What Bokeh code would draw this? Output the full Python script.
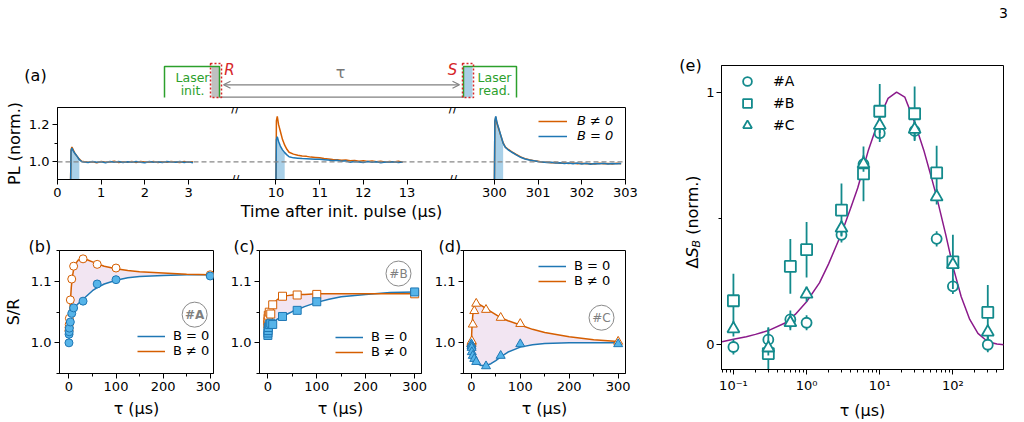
import math
from bokeh.plotting import figure
from bokeh.layouts import row, column
from bokeh.models import (Range1d, FixedTicker, Span, Label, Legend, LegendItem, Title,
                          Arrow, OpenHead, CustomJSTickFormatter, NumeralTickFormatter)
from bokeh.embed import file_html
from bokeh.resources import INLINE

# ---------------- data ----------------
# (a) PL traces (normalised), time after init pulse in microseconds
t_seg1 = [0.30, 0.31, 0.33, 0.36, 0.40, 0.45, 0.50, 0.55, 0.6, 0.7, 0.8, 0.9, 1.0, 1.1, 1.2, 1.3,
          1.4, 1.5, 1.6, 1.7, 1.8, 1.9, 2.0, 2.1, 2.2, 2.3, 2.4, 2.5, 2.6, 2.7, 2.8, 2.9, 3.0, 3.1]
pl_b0_seg1 = [0.90, 1.060, 1.075, 1.060, 1.045, 1.030, 1.012, 1.003, 1.000, 0.997, 1.002, 0.998, 1.001,
              0.996, 1.003, 0.999, 1.002, 0.997, 1.001, 0.998, 1.003, 0.999, 0.996, 1.002, 0.999, 1.001,
              0.997, 1.003, 1.000, 0.998, 1.002, 0.997, 1.001, 0.996]
pl_b1_seg1 = [0.90, 1.065, 1.080, 1.065, 1.045, 1.030, 1.015, 1.004, 1.002, 0.999, 1.001, 0.996, 1.003,
              0.998, 1.000, 1.004, 0.997, 1.001, 0.999, 1.003, 0.997, 1.002, 1.000, 0.998, 1.003, 0.997,
              1.001, 0.999, 1.002, 1.000, 0.997, 1.002, 0.999, 1.001]
t_seg2 = [10.00, 10.01, 10.03, 10.06, 10.10, 10.15, 10.20, 10.25, 10.30, 10.40, 10.50, 10.60, 10.70,
          10.80, 10.90, 11.0, 11.1, 11.2, 11.3, 11.4, 11.5, 11.6, 11.7, 11.8, 11.9, 12.0, 12.1, 12.2,
          12.3, 12.4, 12.5, 12.6, 12.7, 12.8, 12.9]
pl_b0_seg2 = [0.90, 1.120, 1.135, 1.110, 1.085, 1.065, 1.050, 1.038, 1.028, 1.022, 1.020, 1.018, 1.017,
              1.016, 1.015, 1.014, 1.012, 1.010, 1.007, 1.009, 1.004, 1.006, 0.998, 1.003, 1.000, 0.997,
              1.002, 0.998, 1.001, 0.996, 1.000, 0.998, 1.001, 0.997, 1.000]
pl_b1_seg2 = [0.90, 1.220, 1.245, 1.200, 1.165, 1.120, 1.090, 1.068, 1.052, 1.042, 1.036, 1.032, 1.030,
              1.026, 1.024, 1.022, 1.018, 1.016, 1.013, 1.012, 1.009, 1.010, 1.006, 1.008, 1.004, 1.006,
              1.002, 1.005, 1.001, 1.004, 0.999, 1.003, 1.000, 1.004, 0.999]
t_seg3 = [300.00, 300.01, 300.03, 300.06, 300.10, 300.15, 300.20, 300.25, 300.30, 300.40, 300.50,
          300.60, 300.70, 300.80, 300.90, 301.0, 301.1, 301.2, 301.3, 301.4, 301.5, 301.6, 301.7,
          301.8, 301.9, 302.0, 302.1, 302.2, 302.3, 302.4, 302.5, 302.6, 302.7, 302.8, 302.9]
pl_b0_seg3 = [0.90, 1.220, 1.245, 1.210, 1.180, 1.140, 1.100, 1.078, 1.068, 1.052, 1.038, 1.025, 1.016,
              1.010, 1.006, 1.002, 1.000, 0.997, 0.998, 0.994, 0.996, 0.992, 0.995, 0.991, 0.994, 0.989,
              0.993, 0.988, 0.992, 0.990, 0.993, 0.989, 0.992, 0.990, 0.992]
pl_b1_seg3 = [0.90, 1.215, 1.240, 1.205, 1.175, 1.138, 1.102, 1.080, 1.070, 1.054, 1.040, 1.027, 1.018,
              1.012, 1.007, 1.004, 0.999, 0.998, 0.996, 0.997, 0.993, 0.995, 0.992, 0.994, 0.990, 0.993,
              0.990, 0.991, 0.989, 0.993, 0.990, 0.992, 0.989, 0.993, 0.991]
a_tick_vals = [0, 1, 2, 3, 10, 11, 12, 13, 300, 301, 302, 303]
a_tick_labels = ["0", "1", "2", "3", "10", "11", "12", "13", "300", "301", "302", "303"]

# (b)-(d) S/R versus tau
tau_pts = [0.1, 0.3, 0.6, 1, 3, 6, 10, 30, 60, 100, 300]
A_b0 = [1.000, 1.014, 1.018, 1.024, 1.034, 1.048, 1.057, 1.068, 1.096, 1.103, 1.109]
A_b1 = [1.020, 1.025, 1.030, 1.040, 1.070, 1.104, 1.125, 1.137, 1.128, 1.122, 1.111]
B_b0 = [1.012, 1.016, 1.020, 1.025, 1.030, 1.032, 1.030, 1.043, 1.053, 1.067, 1.083]
B_b1 = [1.030, 1.035, 1.040, 1.045, 1.050, 1.047, 1.062, 1.076, 1.078, 1.079, 1.080]
C_b0 = [0.998, 0.995, 0.992, 0.985, 0.979, 0.974, 0.969, 0.962, 0.979, 0.998, 0.998]
C_b1 = [0.998, 1.000, 1.001, 1.003, 1.030, 1.052, 1.064, 1.054, 1.041, 1.031, 1.002]

tau_fit = [0, 1, 2, 3, 5, 7, 10, 15, 20, 30, 40, 50, 60, 75, 100, 125, 150, 200, 250, 300]
A_fit_b0 = [1.000, 1.022, 1.032, 1.038, 1.045, 1.050, 1.055, 1.060, 1.064, 1.071, 1.078, 1.085, 1.090,
            1.096, 1.102, 1.106, 1.108, 1.110, 1.111, 1.111]
A_fit_b1 = [1.020, 1.035, 1.052, 1.066, 1.090, 1.106, 1.120, 1.130, 1.135, 1.137, 1.135, 1.132, 1.129,
            1.125, 1.121, 1.118, 1.116, 1.114, 1.112, 1.111]
B_fit_b0 = [1.024, 1.026, 1.029, 1.030, 1.032, 1.033, 1.034, 1.036, 1.039, 1.043, 1.047, 1.051, 1.054,
            1.059, 1.066, 1.071, 1.075, 1.079, 1.082, 1.083]
B_fit_b1 = [1.028, 1.035, 1.042, 1.047, 1.052, 1.056, 1.061, 1.067, 1.071, 1.075, 1.077, 1.078, 1.079,
            1.079, 1.080, 1.080, 1.080, 1.080, 1.080, 1.080]
C_fit_b0 = [1.000, 0.990, 0.984, 0.980, 0.975, 0.971, 0.968, 0.965, 0.963, 0.963, 0.966, 0.971, 0.977,
            0.985, 0.993, 0.997, 0.999, 1.000, 1.000, 1.000]
C_fit_b1 = [1.000, 1.020, 1.035, 1.045, 1.057, 1.062, 1.064, 1.063, 1.061, 1.056, 1.051, 1.046, 1.041,
            1.036, 1.029, 1.022, 1.017, 1.010, 1.005, 1.002]

# (e) normalised Delta S_B
tau_e = [0.1, 0.3, 0.6, 1, 3, 6, 10, 30, 60, 100, 300]
dS_A = [-0.009, 0.020, 0.100, 0.087, 0.435, 0.715, 0.837, 0.846, 0.419, 0.231, 0.000]
err_A = [0.030, 0.045, 0.035, 0.030, 0.030, 0.035, 0.035, 0.035, 0.030, 0.030, 0.030]
dS_B = [0.174, -0.035, 0.310, 0.376, 0.533, 0.676, 0.924, 0.914, 0.680, 0.328, 0.128]
err_B = [0.107, 0.104, 0.108, 0.110, 0.105, 0.108, 0.108, 0.108, 0.107, 0.107, 0.108]
dS_C = [0.063, -0.013, 0.087, 0.200, 0.461, 0.715, 0.868, 0.852, 0.585, 0.317, 0.050]
err_C = [0.030, 0.030, 0.030, 0.030, 0.030, 0.030, 0.030, 0.030, 0.030, 0.030, 0.030]
tau_curve = [0.07, 0.1, 0.15, 0.2, 0.3, 0.5, 0.7, 1, 1.5, 2, 3, 4, 5, 7, 10, 13, 17, 22, 30, 40, 50,
             60, 80, 100, 130, 170, 220, 300, 400, 500]
dS_curve = [0.012, 0.022, 0.032, 0.041, 0.056, 0.085, 0.120, 0.170, 0.245, 0.320, 0.440, 0.540, 0.620,
            0.770, 0.900, 0.975, 1.000, 0.980, 0.880, 0.770, 0.670, 0.585, 0.435, 0.310, 0.190, 0.100,
            0.045, 0.012, 0.003, 0.000]

# ---------------- style ----------------
FONT = "DejaVu Sans"
BLUE = "#1f77b4"
ORANGE = "#d55e00"
SKY = "#56b4e9"
FILLBLUE = "#a9d0e8"
TEAL = "#138a8c"
PURPLE = "#8b1a8b"
GREEN = "#2ca02c"
RED = "#d62728"
GRAY = "#808080"


def base_fig(**kw):
    p = figure(output_backend="svg", toolbar_location=None, title=None, **kw)
    p.frame_align = False
    return p


def blank_fig(width, height, xr, yr):
    p = base_fig(width=width, height=height, x_range=Range1d(*xr), y_range=Range1d(*yr), min_border=0)
    p.axis.visible = False
    p.grid.visible = False
    p.outline_line_color = None
    p.background_fill_color = "white"
    p.border_fill_color = "white"
    return p


def style_axes(p, label_std=5):
    for ax in p.axis:
        ax.axis_line_color = "black"
        ax.axis_line_width = 1
        ax.major_tick_line_color = "black"
        ax.minor_tick_line_color = "black"
        ax.major_tick_in = 0
        ax.major_tick_out = 5
        ax.minor_tick_in = 0
        ax.minor_tick_out = 3
        ax.major_label_text_font = FONT
        ax.major_label_text_font_size = "13px"
        ax.major_label_text_color = "black"
        ax.major_label_standoff = 3
        ax.axis_label_text_font = FONT
        ax.axis_label_text_font_size = "16px"
        ax.axis_label_text_font_style = "normal"
        ax.axis_label_text_color = "black"
        ax.axis_label_standoff = label_std
    p.grid.visible = False
    p.outline_line_color = "black"
    p.outline_line_width = 1
    p.background_fill_color = "white"
    p.border_fill_color = "white"


def lab(p, x, y, text, size="13px", color="black", align="center", baseline="middle",
        style="normal", angle=0.0):
    p.add_layout(Label(x=x, y=y, text=text, text_font=FONT, text_font_size=size, text_color=color,
                       text_align=align, text_baseline=baseline, text_font_style=style, angle=angle))


def letter_title(text, offset):
    return Title(text=text, align="left", offset=offset, standoff=-11, text_font=FONT,
                 text_font_size="16px", text_font_style="normal", text_color="black")


# ---------------- schematic above (a) ----------------
sch = blank_fig(660, 100, (0, 660), (100, 0))
sch.quad(left=211, right=219, top=66, bottom=97, fill_color="#c0c0c0", line_color=None)
sch.quad(left=463, right=472, top=66, bottom=97, fill_color="#a9cfe6", line_color=None)
sch.line([164, 164, 219, 219], [97, 66, 66, 97], line_color=GREEN, line_width=1.5)
sch.line([463, 463, 516, 516], [97, 66, 66, 97], line_color=GREEN, line_width=1.5)
sch.line([219, 463], [96.7, 96.7], line_color=GRAY, line_width=1.2)
sch.quad(left=210, right=221, top=63, bottom=97, fill_color=None, line_color=RED, line_dash="2 2",
         line_width=1.5)
sch.quad(left=462, right=473, top=63, bottom=97, fill_color=None, line_color=RED, line_dash="2 2",
         line_width=1.5)
sch.add_layout(Arrow(x_start=223, y_start=84.3, x_end=459, y_end=84.3, line_color=GRAY, line_width=1.2,
                     start=OpenHead(size=7, line_color=GRAY, line_width=1.2),
                     end=OpenHead(size=7, line_color=GRAY, line_width=1.2)))
lab(sch, 192, 77, "Laser", "12.5px", GREEN)
lab(sch, 192, 90, "init.", "12.5px", GREEN)
lab(sch, 494, 77, "Laser", "12.5px", GREEN)
lab(sch, 494, 90, "read.", "12.5px", GREEN)
lab(sch, 229, 69, "R", "15px", RED, style="italic")
lab(sch, 452, 69, "S", "15px", RED, style="italic")
lab(sch, 340, 72, "τ", "16px", "#777777")
lab(sch, 35, 75, "(a)", "16px")


# ---------------- (a) ----------------
def to_u(ts):
    return [t if t < 5 else (t - 5 if t < 100 else t - 290) for t in ts]


pa = base_fig(width=660, height=125, x_range=Range1d(0, 13), y_range=Range1d(0.906, 1.292),
              min_border_left=57, min_border_right=35, min_border_top=7, min_border_bottom=46)
pa.add_layout(Span(location=1.0, dimension="width", line_color="#888888", line_dash="5 3", line_width=1.2))
leg_a = None
for ts, y0, y1 in [(t_seg1, pl_b0_seg1, pl_b1_seg1), (t_seg2, pl_b0_seg2, pl_b1_seg2),
                   (t_seg3, pl_b0_seg3, pl_b1_seg3)]:
    us = to_u(ts)
    win = [(u, y) for t, u, y in zip(ts, us, y0) if t <= ts[0] + 0.2]
    pa.varea(x=[w[0] for w in win], y1=[0.8] * len(win), y2=[w[1] for w in win],
             fill_color=FILLBLUE, fill_alpha=1.0)
    r1 = pa.line(us, y1, line_color=ORANGE, line_width=1.5)
    r0 = pa.line(us, y0, line_color=BLUE, line_width=1.5)
    if leg_a is None:
        leg_a = (r1, r0)
style_axes(pa, label_std=2)
pa.xaxis.ticker = FixedTicker(ticks=to_u(a_tick_vals))
pa.xaxis.major_label_overrides = {u: s for u, s in zip(to_u(a_tick_vals), a_tick_labels)}
pa.yaxis.ticker = FixedTicker(ticks=[1.0, 1.2], minor_ticks=[1.1])
pa.yaxis.formatter = NumeralTickFormatter(format="0.0")
pa.xaxis.axis_label = "Time after init. pulse (µs)"
pa.yaxis.axis_label = "PL (norm.)"
for ux in (4.07, 9.05):
    for yy in (0.906, 1.292):
        lab(pa, ux, yy, "//", "12px")
pa.add_layout(Legend(items=[LegendItem(label="B ≠ 0", renderers=[leg_a[0]]),
                            LegendItem(label="B = 0", renderers=[leg_a[1]])],
                     location=(481, 36), padding=0, margin=0, spacing=0, glyph_width=29,
                     glyph_height=12, label_height=12, label_standoff=10, label_text_font=FONT,
                     label_text_font_size="13px", label_text_font_style="italic",
                     label_text_color="black",
                     label_text_line_height=1.0, border_line_color=None, background_fill_alpha=0))


# ---------------- (b), (c), (d) ----------------
def small_panel(width, left, right, xr, b0, b1, fb0, fb1, marker, msize, letter, letter_off, tag,
                tag_x, tag_y, leg_loc, ylabel=None, tag_bold=False):
    p = base_fig(width=width, height=197, x_range=Range1d(*xr), y_range=Range1d(0.95, 1.1506),
                 min_border_left=left, min_border_right=right, min_border_top=25, min_border_bottom=49)
    p.title = letter_title(letter, letter_off)
    p.varea(x=tau_fit, y1=fb0, y2=fb1, fill_color="#800080", fill_alpha=0.1)
    rb0 = p.line(tau_fit, fb0, line_color=BLUE, line_width=1.5)
    rb1 = p.line(tau_fit, fb1, line_color=ORANGE, line_width=1.5)
    p.scatter(tau_pts, b1, marker=marker, size=msize, fill_color="white", line_color=ORANGE, line_width=1)
    p.scatter(tau_pts, b0, marker=marker, size=msize, fill_color=SKY, line_color=BLUE, line_width=1)
    p.scatter([tag_x], [tag_y], marker="circle", size=25, fill_color=None, line_color="#8a8a8a",
              line_width=1)
    lab(p, tag_x, tag_y, tag, "12px", "#808080", style="bold" if tag_bold else "normal")
    style_axes(p, label_std=5)
    p.xaxis.ticker = FixedTicker(ticks=[0, 100, 200, 300], minor_ticks=[50, 150, 250])
    p.yaxis.ticker = FixedTicker(ticks=[1.0, 1.1], minor_ticks=[0.95, 1.05, 1.15])
    p.yaxis.formatter = NumeralTickFormatter(format="0.0")
    p.xaxis.axis_label = "τ (µs)"
    if ylabel:
        p.yaxis.axis_label = ylabel
    p.add_layout(Legend(items=[LegendItem(label="B = 0", renderers=[rb0]),
                               LegendItem(label="B ≠ 0", renderers=[rb1])],
                        location=leg_loc, padding=0, margin=0, spacing=0, glyph_width=28,
                        glyph_height=12, label_height=12, label_standoff=8, label_text_font=FONT,
                        label_text_font_size="13px", label_text_line_height=1.0,
                        label_text_color="black",
                        border_line_color=None, background_fill_alpha=0))
    return p


pb = small_panel(220, 54, 7, (-20, 307), A_b0, A_b1, A_fit_b0, A_fit_b1, "circle", 8, "(b)", -31,
                 "#A", 267, 1.046, (78, 15), ylabel="S/R", tag_bold=True)
pc = small_panel(210, 39, 9, (-17, 314), B_b0, B_b1, B_fit_b0, B_fit_b1, "square", 8, "(c)", -26,
                 "#B", 267, 1.113, (76, 14))
pd = small_panel(230, 33, 35, (-16, 315), C_b0, C_b1, C_fit_b0, C_fit_b1, "triangle", 9, "(d)", -25,
                 "#C", 266, 1.041, (75, 85))

# ---------------- (e) ----------------
XL, XR = 0.0687, 492.0
STRIP_W = 43
pe = base_fig(width=1024 - 660 - STRIP_W, height=392, x_axis_type="log", x_range=Range1d(XL, XR),
              y_range=Range1d(-0.098, 1.105), min_border_left=719 - 660 - STRIP_W, min_border_right=21,
              min_border_top=35, min_border_bottom=49)
pe.line(tau_curve, dS_curve, line_color=PURPLE, line_width=1.5)
rend = []
for vals, errs, mk, ms in [(dS_A, err_A, "circle", 10), (dS_B, err_B, "square", 11),
                           (dS_C, err_C, "triangle", 12)]:
    pe.segment(x0=tau_e, x1=tau_e, y0=[v - e for v, e in zip(vals, errs)],
               y1=[v + e for v, e in zip(vals, errs)], line_color=TEAL, line_width=1.8)
    rend.append(pe.scatter(tau_e, vals, marker=mk, size=ms, fill_color="white", line_color=TEAL,
                           line_width=1.8))
style_axes(pe, label_std=5)
pe.yaxis.major_label_standoff = 2
pe.xaxis.ticker = FixedTicker(ticks=[0.1, 1, 10, 100],
                              minor_ticks=[m * 10.0 ** k for k in (-2, -1, 0, 1, 2) for m in range(2, 10)])
pe.xaxis.formatter = CustomJSTickFormatter(code=r"""
const e = Math.round(Math.log10(tick));
const m = {"-": "\u207b", "0": "\u2070", "1": "\u00b9", "2": "\u00b2", "3": "\u00b3"};
return "10" + String(e).split("").map(c => m[c]).join("");
""")
pe.yaxis.ticker = FixedTicker(ticks=[0, 1], minor_ticks=[0.5])
pe.xaxis.axis_label = "τ (µs)"
pe.add_layout(Legend(items=[LegendItem(label="#A", renderers=[rend[0]]),
                            LegendItem(label="#B", renderers=[rend[1]]),
                            LegendItem(label="#C", renderers=[rend[2]])],
                     location=(10, 233), padding=0, margin=0, spacing=0, glyph_width=32,
                     glyph_height=22, label_height=22, label_standoff=10, label_text_font=FONT,
                     label_text_font_size="14px", label_text_color="black",
                     border_line_color=None, background_fill_alpha=0))

# strip left of (e): rotated y label "ΔS_B (norm.)" and panel letter (page coords)
ystrip = blank_fig(STRIP_W, 422, (660, 660 + STRIP_W), (422, 0))
y_start = 268.0
pieces = [("Δ", 10.9, "16px", "normal", 691.5), ("S", 10.2, "16px", "italic", 691.5),
          ("B", 7.6, "11px", "italic", 695.5), ("(norm.)", 64.8, "16px", "normal", 691.5)]
for txt, w, fs, st, bx in pieces:
    if txt.startswith("("):
        y_start -= 5.0
    ystrip.add_layout(Label(x=bx, y=y_start, text=txt, text_font=FONT, text_font_size=fs,
                            text_font_style=st, text_align="left", text_baseline="middle",
                            angle=math.pi / 2, text_color="black"))
    y_start -= w
lab(ystrip, 690, 65, "(e)", "16px")

# strip above (e): page number
top3 = blank_fig(1024 - 660 - STRIP_W, 30, (660 + STRIP_W, 1024), (30, 0))
lab(top3, 1003, 12, "3", "14px")

left_col = column(sch, pa, row(pb, pc, pd, spacing=0), spacing=0)
layout = row(left_col, ystrip, column(top3, pe, spacing=0), spacing=0)

open("out.html", "w").write(file_html(layout, INLINE))
